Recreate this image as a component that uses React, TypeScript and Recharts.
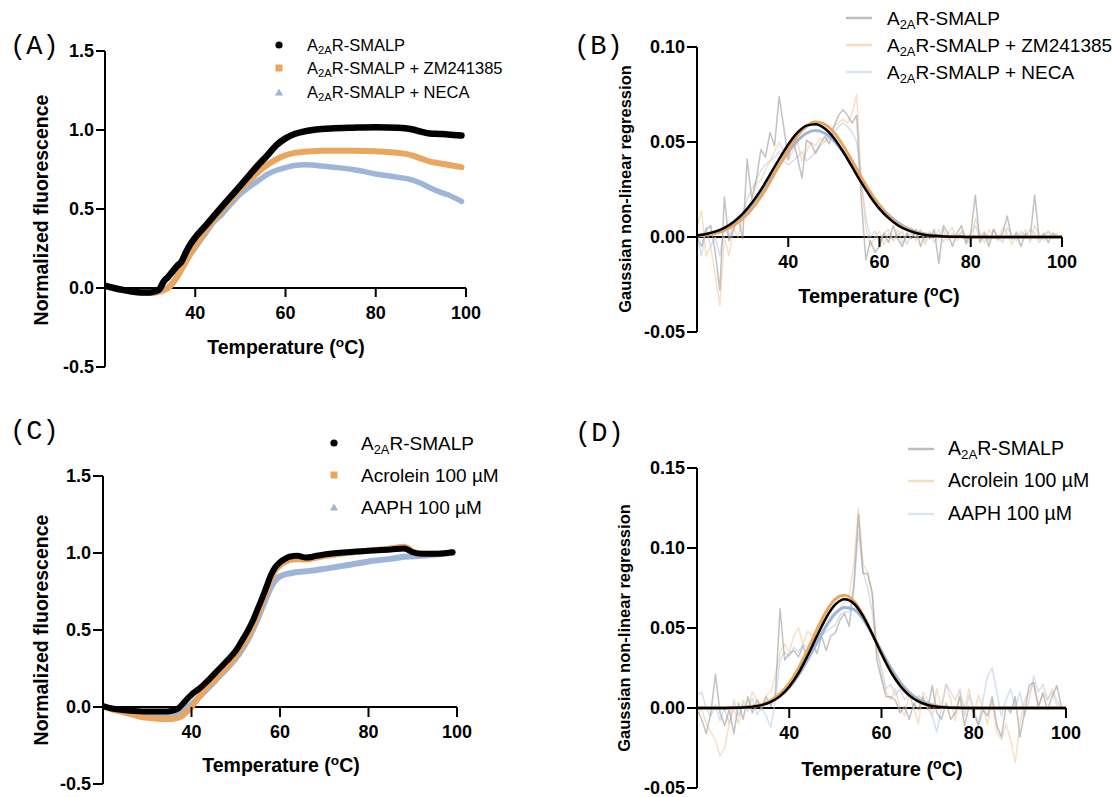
import React from 'react';
import { ComposedChart, Line, XAxis, YAxis, ReferenceLine } from 'recharts';

const FONT = '"Liberation Sans", Arial, Helvetica, sans-serif';
const MONO = '"Liberation Mono", "Courier New", monospace';

// ---------- Panel A: thermal melt, ligands ----------
const tempA = [20, 22, 24, 26, 28, 30, 31, 32, 33, 34, 35, 36, 37, 38, 39, 40, 42, 44, 46, 48, 50, 52, 54, 56, 58, 60, 62, 64, 66, 68, 70, 75, 80, 85, 88, 90, 92, 94, 96, 99];
const aSmalp = [0.015, 0.0, -0.012, -0.022, -0.028, -0.028, -0.022, -0.01, 0.04, 0.07, 0.105, 0.14, 0.17, 0.23, 0.28, 0.32, 0.385, 0.452, 0.518, 0.583, 0.648, 0.714, 0.78, 0.84, 0.905, 0.947, 0.975, 0.99, 1.0, 1.006, 1.01, 1.015, 1.018, 1.015, 1.005, 0.99, 0.978, 0.975, 0.972, 0.965];
const aZm = [0.012, -0.002, -0.014, -0.024, -0.03, -0.032, -0.03, -0.025, -0.015, 0.0, 0.03, 0.07, 0.12, 0.17, 0.22, 0.265, 0.35, 0.43, 0.495, 0.56, 0.625, 0.68, 0.735, 0.78, 0.815, 0.84, 0.855, 0.862, 0.866, 0.868, 0.868, 0.868, 0.865, 0.855, 0.84, 0.82, 0.8, 0.79, 0.78, 0.765];
const aNeca = [0.01, -0.004, -0.016, -0.024, -0.028, -0.03, -0.028, -0.022, -0.01, 0.005, 0.035, 0.075, 0.12, 0.17, 0.215, 0.255, 0.335, 0.415, 0.47, 0.535, 0.595, 0.64, 0.68, 0.72, 0.745, 0.762, 0.775, 0.78, 0.778, 0.772, 0.766, 0.75, 0.722, 0.7, 0.685, 0.663, 0.635, 0.61, 0.59, 0.548];

// ---------- Panel C: thermal melt, oxidants ----------
const tempC = [20, 22, 24, 26, 28, 30, 32, 34, 35, 36, 37, 38, 39, 40, 41, 42, 44, 46, 48, 50, 52, 53, 54, 55, 56, 57, 58, 59, 60, 61, 62, 63, 64, 65, 66, 68, 70, 75, 80, 85, 88, 89, 90, 92, 95, 99];
const cSmalp = [0.005, -0.01, -0.018, -0.024, -0.028, -0.03, -0.03, -0.03, -0.028, -0.022, -0.01, 0.02, 0.052, 0.08, 0.103, 0.125, 0.18, 0.24, 0.3, 0.365, 0.46, 0.51, 0.57, 0.64, 0.71, 0.785, 0.86, 0.91, 0.94, 0.96, 0.975, 0.98, 0.982, 0.975, 0.97, 0.98, 0.99, 1.005, 1.015, 1.022, 1.03, 1.02, 1.005, 0.995, 0.995, 1.005];
const cAcrolein = [0.005, -0.015, -0.03, -0.045, -0.06, -0.07, -0.075, -0.078, -0.078, -0.075, -0.07, -0.055, -0.03, 0.0, 0.04, 0.075, 0.14, 0.2, 0.26, 0.33, 0.42, 0.47, 0.53, 0.6, 0.675, 0.755, 0.83, 0.89, 0.92, 0.94, 0.952, 0.958, 0.96, 0.958, 0.957, 0.968, 0.98, 1.0, 1.015, 1.03, 1.04, 1.03, 1.01, 0.995, 0.995, 1.005];
const cAaph = [0.005, -0.01, -0.02, -0.03, -0.04, -0.045, -0.048, -0.048, -0.046, -0.042, -0.035, -0.02, 0.0, 0.02, 0.045, 0.072, 0.13, 0.19, 0.25, 0.315, 0.4, 0.45, 0.51, 0.575, 0.645, 0.715, 0.78, 0.825, 0.848, 0.86, 0.867, 0.872, 0.876, 0.879, 0.882, 0.888, 0.897, 0.92, 0.945, 0.962, 0.975, 0.978, 0.978, 0.982, 0.99, 1.0];

// ---------- Raw first-derivative data (B, D) ----------
const tempRaw = [20, 21, 22, 23, 24, 25, 26, 27, 28, 29, 30, 31, 32, 33, 34, 35, 36, 37, 38, 39, 40, 41, 42, 43, 44, 45, 46, 47, 48, 49, 50, 51, 52, 53, 54, 55, 56, 57, 58, 59, 60, 61, 62, 63, 64, 65, 66, 67, 68, 69, 70, 71, 72, 73, 74, 75, 76, 77, 78, 79, 80, 81, 82, 83, 84, 85, 86, 87, 88, 89, 90, 91, 92, 93, 94, 95, 96, 97, 98, 99];
const bRawSmalp = [0.0, -0.005, 0.004, 0.006, -0.008, -0.028, 0.021, -0.002, 0.004, 0.011, -0.001, 0.041, 0.02, 0.03, 0.046, 0.042, 0.055, 0.048, 0.074, 0.058, 0.041, 0.051, 0.042, 0.031, 0.051, 0.049, 0.044, 0.049, 0.053, 0.049, 0.058, 0.064, 0.067, 0.064, 0.06, 0.064, 0.02, -0.012, -0.002, -0.008, -0.005, 0.002, -0.003, 0.006, -0.001, -0.005, 0.002, -0.001, 0.004, -0.005, 0.002, -0.001, 0.004, -0.014, 0.006, 0.002, -0.005, 0.002, 0.006, -0.003, 0.002, 0.022, -0.003, 0.002, -0.005, 0.004, -0.001, 0.002, 0.011, -0.001, 0.002, -0.005, 0.002, -0.001, 0.022, -0.001, 0.002, -0.003, 0.002, 0.0];
const bRawZm = [0.005, 0.014, -0.01, -0.005, -0.02, -0.036, 0.0, -0.01, 0.005, 0.0, 0.01, 0.015, 0.02, 0.028, 0.03, 0.035, 0.04, 0.045, 0.05, 0.045, 0.04, 0.045, 0.05, 0.04, 0.045, 0.05, 0.048, 0.052, 0.05, 0.055, 0.058, 0.06, 0.062, 0.06, 0.065, 0.075, 0.03, 0.005, -0.005, 0.0, 0.003, -0.004, 0.002, -0.002, 0.004, -0.003, 0.001, 0.005, -0.002, 0.003, -0.004, 0.002, 0.0, 0.004, -0.003, 0.002, 0.005, -0.002, 0.003, 0.0, -0.004, 0.01, 0.002, -0.003, 0.004, 0.0, -0.002, 0.005, 0.002, -0.004, 0.003, 0.0, 0.004, -0.003, 0.006, 0.001, -0.002, 0.003, 0.0, 0.002];
const bRawNeca = [0.0, -0.01, 0.005, -0.005, 0.0, -0.01, 0.005, 0.0, 0.008, 0.01, 0.012, 0.02, 0.025, 0.03, 0.035, 0.038, 0.04, 0.042, 0.045, 0.04, 0.038, 0.04, 0.042, 0.045, 0.04, 0.042, 0.045, 0.048, 0.05, 0.052, 0.055, 0.058, 0.06, 0.058, 0.055, 0.05, 0.03, 0.01, 0.0, 0.003, -0.003, 0.002, 0.004, -0.002, 0.001, 0.003, -0.004, 0.002, 0.0, 0.004, -0.002, 0.003, -0.003, 0.001, 0.004, -0.002, 0.002, 0.0, 0.003, -0.004, 0.002, 0.006, 0.0, 0.003, -0.002, 0.004, 0.0, -0.003, 0.005, 0.001, -0.002, 0.003, 0.0, 0.004, 0.002, -0.003, 0.001, 0.003, -0.001, 0.0];
const dRawSmalp = [-0.001, -0.007, -0.016, -0.003, 0.021, -0.003, -0.011, -0.001, -0.016, 0.003, -0.007, 0.007, -0.003, 0.005, -0.001, 0.007, 0.001, 0.009, 0.062, 0.03, 0.034, 0.036, 0.032, 0.039, 0.03, 0.041, 0.034, 0.045, 0.036, 0.045, 0.047, 0.055, 0.059, 0.051, 0.076, 0.121, 0.084, 0.084, 0.072, 0.03, 0.018, 0.007, 0.007, 0.005, -0.003, 0.001, -0.007, 0.003, -0.001, 0.007, -0.001, 0.014, -0.003, -0.007, 0.003, -0.007, -0.003, 0.007, -0.011, 0.001, -0.003, -0.011, -0.001, -0.005, 0.007, -0.011, -0.018, 0.001, -0.003, 0.007, -0.018, -0.003, 0.014, 0.016, 0.001, 0.009, -0.001, 0.007, 0.014, 0.001];
const dRawAcrolein = [-0.005, 0.0, -0.01, -0.015, -0.02, -0.03, -0.025, -0.01, 0.0, -0.01, 0.005, 0.0, 0.01, 0.005, 0.002, 0.008, 0.01, 0.02, 0.035, 0.04, 0.035, 0.045, 0.05, 0.04, 0.048, 0.045, 0.05, 0.055, 0.052, 0.058, 0.06, 0.062, 0.066, 0.07, 0.09, 0.125, 0.09, 0.085, 0.07, 0.04, 0.02, 0.01, 0.005, 0.012, 0.0, -0.005, 0.008, 0.0, -0.01, 0.01, 0.005, -0.005, 0.012, 0.0, 0.015, 0.005, -0.008, 0.01, 0.0, 0.012, -0.005, 0.008, 0.0, -0.01, 0.005, -0.015, -0.02, -0.01, -0.02, -0.034, -0.01, 0.005, 0.01, 0.015, 0.0, 0.01, 0.005, 0.012, 0.005, 0.0];
const dRawAaph = [0.008, 0.01, 0.0, -0.005, 0.002, -0.008, 0.0, -0.01, 0.005, -0.005, 0.003, -0.002, 0.006, -0.004, 0.0, -0.005, -0.012, 0.005, 0.03, 0.035, 0.032, 0.038, 0.035, 0.04, 0.038, 0.042, 0.04, 0.045, 0.048, 0.05, 0.052, 0.058, 0.06, 0.06, 0.075, 0.11, 0.085, 0.075, 0.06, 0.035, 0.025, 0.012, 0.015, 0.008, 0.012, 0.005, 0.01, 0.0, 0.008, 0.005, 0.0, -0.005, -0.015, 0.0, 0.015, 0.01, 0.005, 0.012, -0.005, 0.008, 0.0, -0.01, 0.005, 0.02, 0.025, 0.01, -0.005, 0.005, 0.012, 0.0, 0.01, -0.005, 0.005, 0.02, 0.01, 0.015, 0.005, 0.01, 0.002, 0.0];

// ---------- Gaussian fits ----------
const tempFit = [20, 22, 24, 26, 28, 30, 32, 34, 36, 38, 40, 42, 44, 46, 48, 50, 52, 54, 56, 58, 60, 62, 64, 66, 68, 70, 72, 74, 76, 78, 80, 90, 100];
const bFitSmalp = [0.0008, 0.0016, 0.0028, 0.0048, 0.0079, 0.0122, 0.0179, 0.0248, 0.0328, 0.041, 0.0487, 0.0549, 0.0586, 0.0594, 0.0571, 0.0521, 0.045, 0.0369, 0.0287, 0.0212, 0.0148, 0.0099, 0.0062, 0.0037, 0.0021, 0.0011, 0.0006, 0.0003, 0.0001, 0.0001, 0.0, 0.0, 0.0];
const bFitZm = [0.0005, 0.001, 0.0019, 0.0035, 0.006, 0.0096, 0.0147, 0.0212, 0.029, 0.0376, 0.046, 0.0532, 0.0583, 0.0605, 0.0593, 0.055, 0.0483, 0.0401, 0.0316, 0.0235, 0.0165, 0.011, 0.0069, 0.0041, 0.0023, 0.0012, 0.0006, 0.0003, 0.0001, 0.0001, 0.0, 0.0, 0.0];
const bFitNeca = [0.0009, 0.0016, 0.0028, 0.0047, 0.0076, 0.0115, 0.0167, 0.023, 0.0302, 0.0377, 0.0448, 0.0507, 0.0546, 0.056, 0.0546, 0.0507, 0.0448, 0.0377, 0.0302, 0.023, 0.0167, 0.0115, 0.0076, 0.0047, 0.0028, 0.0016, 0.0009, 0.0004, 0.0002, 0.0001, 0.0, 0.0, 0.0];
const dFitSmalp = [0, 0, 0, 0, 0.0001, 0.0003, 0.0008, 0.0018, 0.0038, 0.0074, 0.0133, 0.0218, 0.0328, 0.0449, 0.0564, 0.0647, 0.068, 0.0653, 0.0574, 0.0462, 0.0339, 0.0228, 0.0141, 0.0079, 0.0041, 0.0019, 0.0008, 0.0003, 0.0001, 0.0, 0.0, 0.0, 0.0];
const dFitAcrolein = [0, 0, 0, 0, 0.0002, 0.0004, 0.001, 0.0023, 0.0047, 0.009, 0.0156, 0.0249, 0.0365, 0.049, 0.0603, 0.068, 0.0704, 0.0668, 0.0582, 0.0465, 0.034, 0.0229, 0.0141, 0.008, 0.0041, 0.002, 0.0009, 0.0003, 0.0001, 0.0, 0.0, 0.0, 0.0];
const dFitAaph = [0, 0, 0, 0, 0.0001, 0.0004, 0.0009, 0.0019, 0.0039, 0.0074, 0.0128, 0.0205, 0.0302, 0.0409, 0.0512, 0.0591, 0.0628, 0.0616, 0.0556, 0.0463, 0.0355, 0.0251, 0.0163, 0.0098, 0.0054, 0.0028, 0.0013, 0.0006, 0.0002, 0.0001, 0.0, 0.0, 0.0];

// ---------- ticks ----------
const xTicks = [40, 60, 80, 100];
const yTicksMelt = [-0.5, 0, 0.5, 1.0, 1.5];
const yTicksB = [-0.05, 0, 0.05, 0.1];
const yTicksD = [-0.05, 0, 0.05, 0.1, 0.15];

const BLACK = '#000000';
const ORANGE = '#EAA65E';
const BLUE = '#9CB5D9';

const zip = (ts: number[], vs: number[]) => ts.map((t, i) => ({ t, v: vs[i] }));

type Series = { key: string; data: { t: number; v: number }[]; color: string; width: number; opacity?: number; curve?: 'monotone' | 'linear' };

type PanelProps = {
  left: number; top: number; plotW: number; plotH: number;
  yMin: number; yMax: number; yTicks: number[]; digits: number; tickLen: number;
  series: Series[];
};

function Panel({ left, top, plotW, plotH, yMin, yMax, yTicks, digits, tickLen, series }: PanelProps) {
  const YW = 80, MT = 15, MR = 20, XH = 1, MB = 10;
  const width = YW + plotW + MR;
  const height = MT + plotH + XH + MB;
  const zeroY = MT + (plotH * yMax) / (yMax - yMin);
  const renderXTick = (p: any) => (
    <g>
      <line x1={p.x} x2={p.x} y1={zeroY} y2={zeroY + tickLen} stroke="#000" strokeWidth={2} />
      <text x={p.x} y={zeroY + 31} textAnchor="middle" fill="#000" fontSize={18} fontWeight={700} fontFamily={FONT}>
        {p.payload.value}
      </text>
    </g>
  );
  return (
    <div style={{ position: 'absolute', left: left - YW, top: top - MT }}>
      <ComposedChart width={width} height={height} margin={{ top: MT, right: MR, bottom: MB, left: 0 }}>
        <XAxis type="number" dataKey="t" domain={[20, 100]} ticks={xTicks} interval={0} allowDataOverflow
          axisLine={false} tickLine={false} tick={renderXTick} height={XH} />
        <YAxis type="number" domain={[yMin, yMax]} ticks={yTicks} interval={0} allowDataOverflow width={YW}
          axisLine={{ stroke: '#000', strokeWidth: 2 }} tickLine={{ stroke: '#000', strokeWidth: 2 }} tickSize={tickLen}
          tickFormatter={(v: number) => v.toFixed(digits)}
          tick={{ fill: '#000', fontSize: 18, fontWeight: 700, fontFamily: FONT }} />
        <ReferenceLine y={0} stroke="#000" strokeWidth={2} />
        {series.map((s) => (
          <Line key={s.key} data={s.data} dataKey="v" type={s.curve ?? 'monotone'} stroke={s.color}
            strokeWidth={s.width} strokeOpacity={s.opacity ?? 1} dot={false} activeDot={false}
            isAnimationActive={false} strokeLinecap="round" strokeLinejoin="round" />
        ))}
      </ComposedChart>
    </div>
  );
}

const subStyle: React.CSSProperties = { fontSize: '0.68em', position: 'relative', top: '0.28em' };
const A2A = (
  <>
    A<span style={subStyle}>2A</span>R-SMALP
  </>
);
const TempTitle = (
  <>
    Temperature (<span style={{ fontSize: '0.7em', position: 'relative', top: '-0.5em' }}>o</span>C)
  </>
);

function Marker({ kind, color }: { kind: string; color: string }) {
  if (kind === 'line') return <svg width={26} height={6}><line x1={0} x2={26} y1={3} y2={3} stroke={color} strokeWidth={2.5} /></svg>;
  if (kind === 'circle') return <svg width={10} height={10}><circle cx={5} cy={5} r={3.6} fill={color} /></svg>;
  if (kind === 'square') return <svg width={10} height={10}><rect x={1.5} y={1.5} width={7} height={7} fill={color} /></svg>;
  return <svg width={10} height={10}><polygon points="5,1.5 9,8.5 1,8.5" fill={color} /></svg>;
}

type LegendRow = { label: React.ReactNode; color: string; kind: string; y: number };

function HtmlLegend({ markerX, textX, fontSize, rows }: { markerX: number; textX: number; fontSize: number; rows: LegendRow[] }) {
  return (
    <>
      {rows.map((r, i) => (
        <React.Fragment key={i}>
          <div style={{ position: 'absolute', left: markerX, top: r.y, transform: 'translate(-50%, -50%)', lineHeight: 0 }}>
            <Marker kind={r.kind} color={r.color} />
          </div>
          <div style={{ position: 'absolute', left: textX, top: r.y, transform: 'translateY(-50%)', fontFamily: FONT, fontSize, lineHeight: 1, whiteSpace: 'nowrap', color: '#000' }}>
            {r.label}
          </div>
        </React.Fragment>
      ))}
    </>
  );
}

function XTitle({ cx, cy, size }: { cx: number; cy: number; size: number }) {
  return (
    <div style={{ position: 'absolute', left: cx, top: cy, transform: 'translate(-50%, -50%)', fontFamily: FONT, fontWeight: 700, fontSize: size, lineHeight: 1, whiteSpace: 'nowrap' }}>
      {TempTitle}
    </div>
  );
}

function YTitle({ cx, cy, size, text }: { cx: number; cy: number; size: number; text: string }) {
  return (
    <div style={{ position: 'absolute', left: cx, top: cy, transform: 'translate(-50%, -50%) rotate(-90deg)', fontFamily: FONT, fontWeight: 700, fontSize: size, lineHeight: 1, whiteSpace: 'nowrap' }}>
      {text}
    </div>
  );
}

function PanelLabel({ x, cy, text }: { x: number; cy: number; text: string }) {
  return (
    <div style={{ position: 'absolute', left: x, top: cy, transform: 'translateY(-50%)', fontFamily: MONO, fontSize: 27, lineHeight: 1, whiteSpace: 'nowrap' }}>
      {text}
    </div>
  );
}

export default function App() {
  const seriesA: Series[] = [
    { key: 'neca', data: zip(tempA, aNeca), color: BLUE, width: 5.5 },
    { key: 'zm', data: zip(tempA, aZm), color: ORANGE, width: 6 },
    { key: 'smalp', data: zip(tempA, aSmalp), color: BLACK, width: 6.5 },
  ];
  const seriesC: Series[] = [
    { key: 'aaph', data: zip(tempC, cAaph), color: BLUE, width: 6 },
    { key: 'acro', data: zip(tempC, cAcrolein), color: ORANGE, width: 6 },
    { key: 'smalp', data: zip(tempC, cSmalp), color: BLACK, width: 6 },
  ];
  const seriesB: Series[] = [
    { key: 'rawNeca', data: zip(tempRaw, bRawNeca), color: '#B9CCE6', width: 1.5, opacity: 0.6, curve: 'linear' },
    { key: 'rawZm', data: zip(tempRaw, bRawZm), color: '#F2C596', width: 1.5, opacity: 0.55, curve: 'linear' },
    { key: 'rawSmalp', data: zip(tempRaw, bRawSmalp), color: '#9A9A9A', width: 1.5, opacity: 0.6, curve: 'linear' },
    { key: 'fitNeca', data: zip(tempFit, bFitNeca), color: BLUE, width: 3 },
    { key: 'fitZm', data: zip(tempFit, bFitZm), color: ORANGE, width: 3 },
    { key: 'fitSmalp', data: zip(tempFit, bFitSmalp), color: BLACK, width: 2.5 },
  ];
  const seriesD: Series[] = [
    { key: 'rawAcro', data: zip(tempRaw, dRawAcrolein), color: '#F2C596', width: 1.5, opacity: 0.55, curve: 'linear' },
    { key: 'rawAaph', data: zip(tempRaw, dRawAaph), color: '#B9CCE6', width: 1.5, opacity: 0.6, curve: 'linear' },
    { key: 'rawSmalp', data: zip(tempRaw, dRawSmalp), color: '#9A9A9A', width: 1.5, opacity: 0.6, curve: 'linear' },
    { key: 'fitAaph', data: zip(tempFit, dFitAaph), color: BLUE, width: 3 },
    { key: 'fitAcro', data: zip(tempFit, dFitAcrolein), color: ORANGE, width: 3 },
    { key: 'fitSmalp', data: zip(tempFit, dFitSmalp), color: BLACK, width: 2.5 },
  ];

  return (
    <div style={{ position: 'absolute', left: 0, top: 0, width: 1112, height: 797, background: '#fff', overflow: 'hidden', color: '#000' }}>
      <Panel left={105} top={51} plotW={361} plotH={316} yMin={-0.5} yMax={1.5} yTicks={yTicksMelt} digits={1} tickLen={9} series={seriesA} />
      <Panel left={697} top={47} plotW={365} plotH={285} yMin={-0.05} yMax={0.1} yTicks={yTicksB} digits={2} tickLen={10} series={seriesB} />
      <Panel left={103} top={476} plotW={354} plotH={308} yMin={-0.5} yMax={1.5} yTicks={yTicksMelt} digits={1} tickLen={10} series={seriesC} />
      <Panel left={697} top={468} plotW={369} plotH={320} yMin={-0.05} yMax={0.15} yTicks={yTicksD} digits={2} tickLen={10} series={seriesD} />

      <PanelLabel x={10} cy={47} text="(A)" />
      <PanelLabel x={574} cy={47} text="(B)" />
      <PanelLabel x={10} cy={432} text="(C)" />
      <PanelLabel x={575} cy={434} text="(D)" />

      <XTitle cx={286} cy={348} size={19.5} />
      <XTitle cx={879} cy={296} size={20} />
      <XTitle cx={281} cy={766} size={19.5} />
      <XTitle cx={882} cy={769} size={20} />

      <YTitle cx={42} cy={210} size={19.5} text="Normalized fluorescence" />
      <YTitle cx={625} cy={189} size={16.5} text="Gaussian non-linear regression" />
      <YTitle cx={42} cy={630} size={19.5} text="Normalized fluorescence" />
      <YTitle cx={624} cy={628} size={16.5} text="Gaussian non-linear regression" />

      <HtmlLegend markerX={279} textX={307} fontSize={16.5} rows={[
        { label: A2A, color: BLACK, kind: 'circle', y: 44.5 },
        { label: <>{A2A} + ZM241385</>, color: ORANGE, kind: 'square', y: 68 },
        { label: <>{A2A} + NECA</>, color: BLUE, kind: 'triangle', y: 92 },
      ]} />
      <HtmlLegend markerX={859} textX={887} fontSize={19} rows={[
        { label: A2A, color: '#BDBDBD', kind: 'line', y: 18 },
        { label: <>{A2A} + ZM241385</>, color: '#F7DCBF', kind: 'line', y: 45 },
        { label: <>{A2A} + NECA</>, color: '#DCE5F2', kind: 'line', y: 72 },
      ]} />
      <HtmlLegend markerX={334} textX={361} fontSize={19} rows={[
        { label: A2A, color: BLACK, kind: 'circle', y: 443 },
        { label: 'Acrolein 100 µM', color: ORANGE, kind: 'square', y: 474.5 },
        { label: 'AAPH 100 µM', color: BLUE, kind: 'triangle', y: 506.5 },
      ]} />
      <HtmlLegend markerX={921} textX={948} fontSize={19.5} rows={[
        { label: A2A, color: '#BDBDBD', kind: 'line', y: 449 },
        { label: 'Acrolein 100 µM', color: '#F7DCBF', kind: 'line', y: 481 },
        { label: 'AAPH 100 µM', color: '#DCE5F2', kind: 'line', y: 514 },
      ]} />
    </div>
  );
}
